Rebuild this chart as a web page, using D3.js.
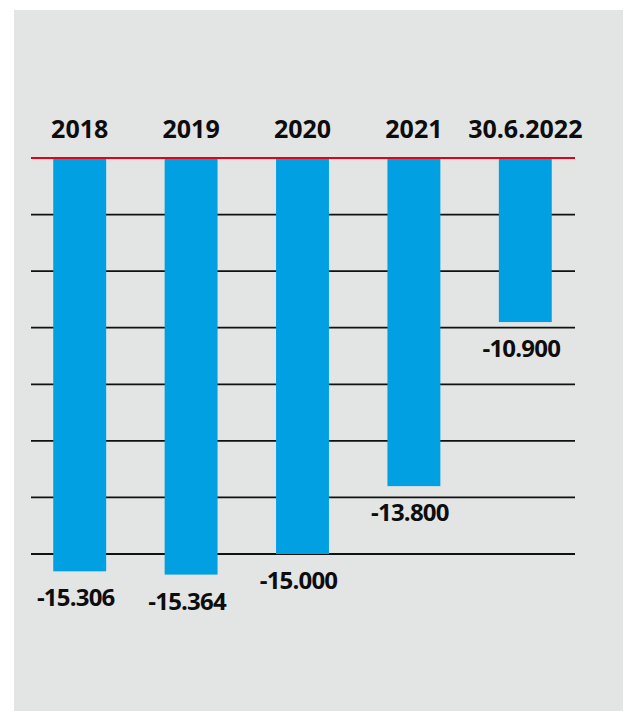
<!DOCTYPE html>
<html>
<head>
<meta charset="utf-8">
<script src="https://cdn.jsdelivr.net/npm/d3@7"></script>
<style>
  html, body { margin: 0; padding: 0; background: #fff; }
  svg { display: block; }
  .year { font-family: "Open Sans", sans-serif; font-weight: 700; font-size: 25px; fill: #0d0d0d; }
  .val { font-family: "Open Sans", sans-serif; font-weight: 700; font-size: 24px; fill: #0d0d0d; letter-spacing: -0.8px; }
</style>
</head>
<body>
<div id="chart"></div>
<script>
var categories = ['2018', '2019', '2020', '2021', '30.6.2022'];
var values = [-15306, -15364, -15000, -13800, -10900];
var labels = ['-15.306', '-15.364', '-15.000', '-13.800', '-10.900'];
var gridValues = [-9000, -10000, -11000, -12000, -13000, -14000, -15000];
var baseValue = -8000;

var width = 628, height = 711;

var svg = d3.select('#chart').append('svg')
    .attr('width', width)
    .attr('height', height);

// grey panel
svg.append('rect')
    .attr('x', 14).attr('y', 10)
    .attr('width', 609).attr('height', 701)
    .style('fill', '#e3e4e4');

var x = d3.scaleBand()
    .domain(categories)
    .range([24, 581])
    .paddingInner(0.525)
    .paddingOuter(0.2625);

var y = d3.scaleLinear()
    .domain([baseValue, -15000])
    .range([158, 554]);

// gridlines
svg.append('g').selectAll('line')
    .data(gridValues)
    .enter().append('line')
    .attr('x1', 31).attr('x2', 575)
    .attr('y1', function(d) { return y(d); })
    .attr('y2', function(d) { return y(d); })
    .style('stroke', '#111')
    .style('stroke-width', 1.8);

// bars
svg.append('g').selectAll('rect')
    .data(values)
    .enter().append('rect')
    .attr('x', function(d, i) { return x(categories[i]); })
    .attr('width', x.bandwidth())
    .attr('y', y(baseValue))
    .attr('height', function(d) { return y(d) - y(baseValue); })
    .style('fill', '#00a0e3');

// base line in red
svg.append('line')
    .attr('x1', 31).attr('x2', 575)
    .attr('y1', y(baseValue)).attr('y2', y(baseValue))
    .style('stroke', '#e2001a')
    .style('stroke-width', 2);

// year labels
svg.append('g').selectAll('text')
    .data(categories)
    .enter().append('text')
    .attr('class', 'year')
    .attr('x', function(d) { return x(d) + x.bandwidth() / 2; })
    .attr('y', 138)
    .attr('text-anchor', 'middle')
    .text(function(d) { return d; });

// value labels
svg.append('g').selectAll('text')
    .data(values)
    .enter().append('text')
    .attr('class', 'val')
    .attr('x', function(d, i) { return x(categories[i]) + x.bandwidth() / 2 - 4; })
    .attr('y', function(d) { return y(d) + 35; })
    .attr('text-anchor', 'middle')
    .text(function(d, i) { return labels[i]; });
</script>
</body>
</html>
